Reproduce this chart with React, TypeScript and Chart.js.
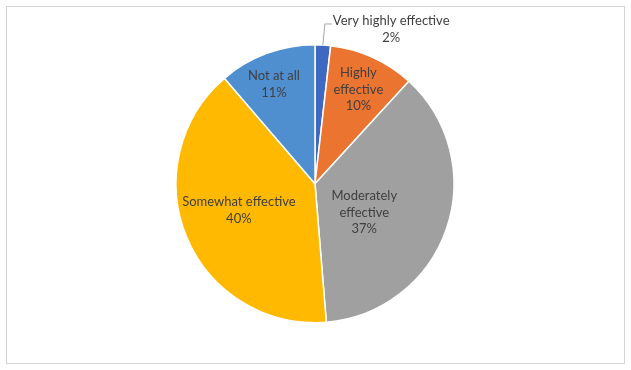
import React, { useEffect, useRef } from "react";
import { Chart, registerables } from "chart.js";

Chart.register(...registerables);

const categories = [
  "Very highly effective",
  "Highly effective",
  "Moderately effective",
  "Somewhat effective",
  "Not at all",
];
const values = [1.8, 10.0, 36.9, 40.0, 11.3];
const labelLines = [
  ["Very highly effective"],
  ["Highly", "effective"],
  ["Moderately", "effective"],
  ["Somewhat effective"],
  ["Not at all"],
];
const colors = ["#3F69C0", "#EC7431", "#A0A0A0", "#FFB900", "#4F8FD0"];

// label placement style: [radius fraction, angle shift in degrees]; null => outside with leader
const labelPlacement: ([number, number] | null)[] = [
  null,
  [0.745, 0.3],
  [0.41, 11.3],
  [0.58, 3.5],
  [0.775, -2.1],
];

const FONT = "13px Lato";
const LINE_H = 16.5;
const TEXT_COLOR = "#404040";

const labelPlugin = {
  id: "pieLabels",
  beforeDraw(chart: any) {
    const ctx = chart.ctx;
    ctx.save();
    ctx.fillStyle = "#ffffff";
    ctx.fillRect(0, 0, chart.width, chart.height);
    ctx.strokeStyle = "#D4D4D4";
    ctx.lineWidth = 1;
    ctx.strokeRect(6.5, 6.5, 618, 357);
    ctx.restore();
  },
  afterDatasetsDraw(chart: any) {
    const ctx = chart.ctx;
    const meta = chart.getDatasetMeta(0);
    const data = chart.data.datasets[0].data as number[];
    const total = data.reduce((a, b) => a + b, 0);
    ctx.save();
    ctx.font = FONT;
    ctx.fillStyle = TEXT_COLOR;
    ctx.textBaseline = "middle";
    meta.data.forEach((arc: any, i: number) => {
      const { x, y, startAngle, endAngle, outerRadius } = arc.getProps(
        ["x", "y", "startAngle", "endAngle", "outerRadius"],
        true
      );
      const pct = Math.round((data[i] / total) * 100) + "%";
      const lines = [...labelLines[i], pct];
      const mid = (startAngle + endAngle) / 2;
      const place = labelPlacement[i];
      if (place) {
        const a = mid + (place[1] * Math.PI) / 180;
        const r = outerRadius * place[0];
        const cx = x + Math.cos(a) * r;
        const cy = y + Math.sin(a) * r;
        ctx.textAlign = "center";
        const top = cy - ((lines.length - 1) * LINE_H) / 2;
        lines.forEach((t, k) => ctx.fillText(t, cx, top + k * LINE_H));
      } else {
        const ax = x + Math.cos(mid) * outerRadius;
        const ay = y + Math.sin(mid) * outerRadius;
        const ex = ax + 2;
        const ey = ay - 21;
        const hx = ex + 7;
        ctx.strokeStyle = "#A6A6A6";
        ctx.lineWidth = 1;
        ctx.beginPath();
        ctx.moveTo(ax, ay);
        ctx.lineTo(ex, ey);
        ctx.lineTo(hx, ey);
        ctx.stroke();
        const w = Math.max(...lines.map((t) => ctx.measureText(t).width));
        const cx = hx + 1 + w / 2;
        ctx.textAlign = "center";
        const top = ey - 3;
        lines.forEach((t, k) => ctx.fillText(t, cx, top + k * LINE_H));
      }
    });
    ctx.restore();
  },
};

export default function App() {
  const ref = useRef<HTMLCanvasElement | null>(null);
  useEffect(() => {
    if (!ref.current) return;
    const chart = new Chart(ref.current, {
      type: "pie",
      data: {
        labels: categories,
        datasets: [
          {
            data: values,
            backgroundColor: colors,
            borderColor: "#ffffff",
            borderWidth: 1.5,
          },
        ],
      },
      options: {
        animation: false,
        responsive: false,
        maintainAspectRatio: false,
        layout: { padding: { top: 44, bottom: 46.5, left: 0, right: 1 } },
        plugins: {
          legend: { display: false },
          tooltip: { enabled: false },
        },
      },
      plugins: [labelPlugin],
    });
    return () => chart.destroy();
  }, []);
  return (
    <div style={{ position: "absolute", left: 0, top: 0, width: 631, height: 370 }}>
      <canvas ref={ref} width={631} height={370} style={{ width: 631, height: 370 }} />
    </div>
  );
}
